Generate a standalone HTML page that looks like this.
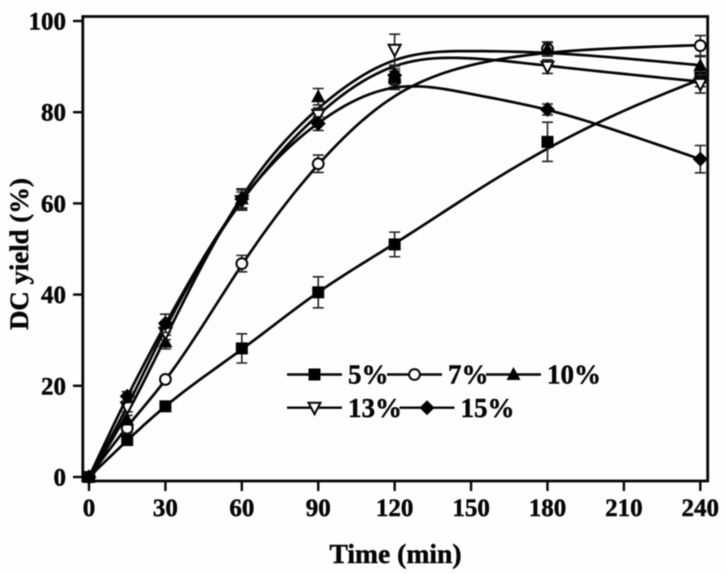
<!DOCTYPE html>
<html>
<head>
<meta charset="utf-8">
<style>
html,body{margin:0;padding:0;background:#fefefe;}
svg{display:block;filter:blur(0.5px);}
text{font-family:"Liberation Serif",serif;font-weight:bold;fill:#050505;stroke:#050505;stroke-width:0.45px;}
</style>
</head>
<body>
<svg id="chart" width="726" height="574" viewBox="0 0 726 574" xmlns="http://www.w3.org/2000/svg"></svg>
<script>
const times = [0, 15, 30, 60, 90, 120, 180, 240];
const fitTimes = [0, 15, 30, 60, 90, 120, 150, 180, 210, 240];
const xTicks = [0, 30, 60, 90, 120, 150, 180, 210, 240];
const yTicks = [0, 20, 40, 60, 80, 100];
const seriesNames = ['5%', '7%', '10%', '13%', '15%'];

const values5 = [0, 8.1, 15.5, 28.2, 40.5, 51, 73.5, 87.6];
const values7 = [0, 10.7, 21.4, 46.8, 68.7, 87, 93.9, 94.6];
const values10 = [0, 12.5, 29.6, 61, 83.4, 87.5, 93.8, 90.2];
const values13 = [0, 15.3, 31.6, 60.5, 79.4, 93.7, 90, 86.2];
const values15 = [0, 17.7, 33.7, 61, 77.5, 88.1, 80.6, 69.7];

const errors5 = [0, 1, 0.6, 3.2, 3.4, 2.7, 4.3, 2];
const errors7 = [0, 1, 0.6, 1.8, 1.9, 2, 1.5, 2.2];
const errors10 = [0, 1, 1.5, 2, 1.8, 2, 1.5, 2];
const errors13 = [0, 1, 1.5, 2, 1.5, 3.4, 1.5, 2];
const errors15 = [0, 1, 2, 2.2, 1.5, 2, 1.2, 3];

const fit5 = [0, 8, 15.5, 28, 40.5, 51.2, 62, 72, 80.3, 87.2];
const fit7 = [0, 11, 21.3, 46.5, 68.5, 83.5, 90.3, 93, 94.1, 94.7];
const fit10 = [0, 14, 30.5, 61.4, 80.8, 91.4, 93.4, 93, 91.8, 90.3];
const fit13 = [0, 15.5, 32.5, 60.5, 79.4, 90.1, 91.8, 90.2, 88.4, 86.7];
const fit15 = [0, 17.5, 33.5, 60.7, 77.6, 85.4, 84, 80.5, 75.4, 69.7];

const allValues = [values5, values7, values10, values13, values15];
const allErrors = [errors5, errors7, errors10, errors13, errors15];
const allFits = [fit5, fit7, fit10, fit13, fit15];

const NS = 'http://www.w3.org/2000/svg';
const svg = document.getElementById('chart');
const x = t => 89 + t * (700.3 - 89) / 240;
const y = v => 477 - v * 4.56;

function make(tag, attrs, parent) {
  const el = document.createElementNS(NS, tag);
  for (const k in attrs) el.setAttribute(k, attrs[k]);
  (parent || svg).appendChild(el);
  return el;
}

/* natural cubic spline through the fitted values, sampled along the time axis */
function curvePath(ts, vs) {
  const n = ts.length;
  const h = [];
  for (let i = 0; i < n - 1; i++) h.push(ts[i + 1] - ts[i]);
  const c = new Array(n).fill(0), dp = new Array(n).fill(0), rp = new Array(n).fill(0);
  for (let i = 1; i < n - 1; i++) {
    const a = h[i - 1], b = 2 * (h[i - 1] + h[i]), u = h[i];
    const r = 6 * ((vs[i + 1] - vs[i]) / h[i] - (vs[i] - vs[i - 1]) / h[i - 1]);
    const m = b - a * dp[i - 1];
    dp[i] = u / m;
    rp[i] = (r - a * rp[i - 1]) / m;
  }
  for (let i = n - 2; i > 0; i--) c[i] = rp[i] - dp[i] * c[i + 1];
  let d = 'M' + x(ts[0]).toFixed(2) + ' ' + y(vs[0]).toFixed(2);
  for (let i = 0; i < n - 1; i++) {
    const steps = 12;
    for (let k = 1; k <= steps; k++) {
      const t = h[i] * k / steps, A = 1 - t / h[i], B = t / h[i];
      const v = A * vs[i] + B * vs[i + 1] +
        ((A * A * A - A) * c[i] + (B * B * B - B) * c[i + 1]) * h[i] * h[i] / 6;
      d += 'L' + x(ts[i] + t).toFixed(2) + ' ' + y(v).toFixed(2);
    }
  }
  return d;
}

function drawMarker(kind, cx, cy, parent) {
  if (kind === 0) return make('rect', {x: cx - 6, y: cy - 6, width: 12, height: 12, fill: '#000'}, parent);
  if (kind === 1) return make('circle', {cx: cx, cy: cy, r: 5.4, fill: '#fff', stroke: '#050505', 'stroke-width': 2}, parent);
  if (kind === 2) return make('polygon', {points: [cx, cy - 7.5, cx + 7, cy + 5.5, cx - 7, cy + 5.5].join(' '), fill: '#000'}, parent);
  if (kind === 3) return make('polygon', {points: [cx - 6, cy - 5, cx + 6, cy - 5, cx, cy + 6.5].join(' '), fill: '#fff', stroke: '#050505', 'stroke-width': 2}, parent);
  return make('polygon', {points: [cx, cy - 7.5, cx + 7.5, cy, cx, cy + 7.5, cx - 7.5, cy].join(' '), fill: '#000'}, parent);
}

/* axes */
const axes = make('g', {});


const frame = make('path', {d: 'M82.8 481V16.5H707.7V481H82.8Z', fill: 'none', stroke: '#050505', 'stroke-width': 2.8}, axes);



xTicks.forEach(t => {
  const tick = make('line', {x1: x(t), x2: x(t), y1: 481, y2: 491, stroke: '#050505', 'stroke-width': 2.4}, axes);
  
  
  const label = make('text', {x: x(t), y: 516, 'text-anchor': 'middle', 'font-size': 25}, axes);
  label.textContent = t;
  
  
});
yTicks.forEach(v => {
  const tick = make('line', {x1: 73, x2: 82.8, y1: y(v), y2: y(v), stroke: '#050505', 'stroke-width': 2.4}, axes);
  
  
  const label = make('text', {x: 66, y: y(v) + 8.5, 'text-anchor': 'end', 'font-size': 25}, axes);
  label.textContent = v;
  
  
});

const xTitle = make('text', {x: 395.5, y: 563, 'text-anchor': 'middle', 'font-size': 27.6}, axes);
xTitle.textContent = 'Time (min)';


const yTitle = make('text', {x: 0, y: 0, 'text-anchor': 'middle', 'font-size': 26.8, transform: 'translate(28 254) rotate(-90)'}, axes);
yTitle.textContent = 'DC yield (%)';



/* series */
seriesNames.forEach((name, s) => {
  const g = make('g', {});
  
  
  const line = make('path', {d: curvePath(fitTimes, allFits[s]), fill: 'none', stroke: '#050505', 'stroke-width': 2.7}, g);
  
  
  times.forEach((t, i) => {
    const v = allValues[s][i];
    const e = allErrors[s][i];
    if (e > 0) {
      const bar = make('path', {
        d: 'M' + x(t) + ' ' + y(v - e) + 'V' + y(v + e) +
           'M' + (x(t) - 5.5) + ' ' + y(v + e) + 'h11' +
           'M' + (x(t) - 5.5) + ' ' + y(v - e) + 'h11',
        fill: 'none', stroke: '#222', 'stroke-width': 1.6
      }, g);
      
      
    }
    const mark = drawMarker(s, x(t), y(v), g);
    
    
  });
});

/* legend */
const legendX = [287, 387, 486, 287, 399.5];
const legendY = [374.5, 374.5, 374.5, 407.7, 407.7];
const legend = make('g', {});


seriesNames.forEach((name, s) => {
  const g = make('g', {}, legend);
  
  
  const lx = legendX[s], ly = legendY[s];
  make('line', {x1: lx, x2: lx + 55, y1: ly, y2: ly, stroke: '#050505', 'stroke-width': 2.4}, g);
  drawMarker(s, lx + 27.5, ly, g);
  const label = make('text', {x: lx + 61, y: ly + 9.2, 'font-size': 27}, g);
  label.textContent = name;
  
  
});
</script>
</body>
</html>
